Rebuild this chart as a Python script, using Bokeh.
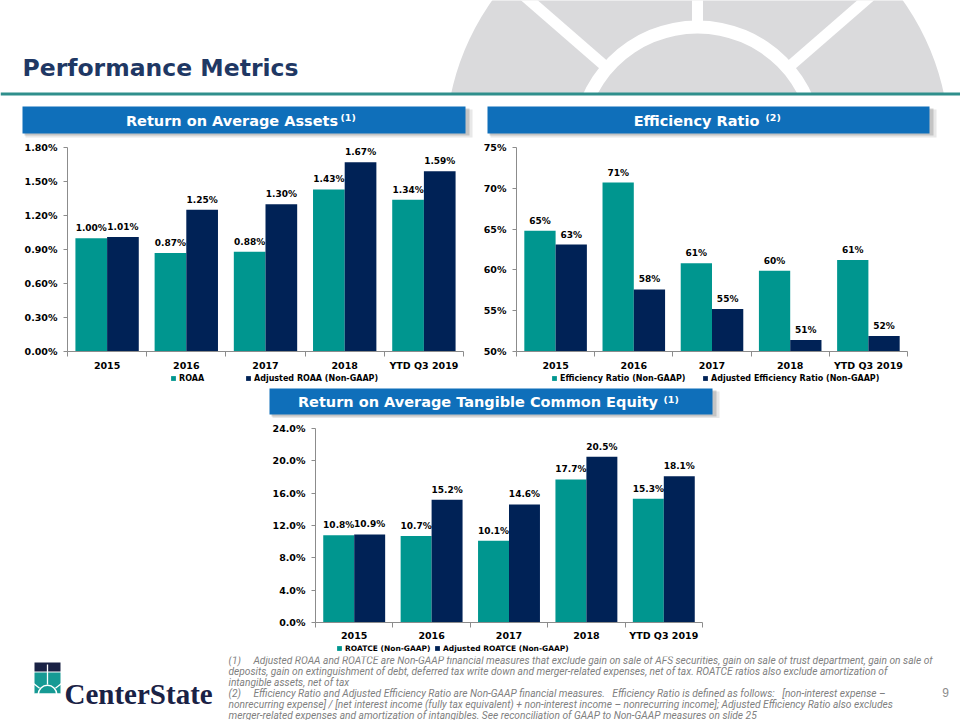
import math
from bokeh.plotting import figure
from bokeh.layouts import column, row
from bokeh.models import (Range1d, FixedTicker, PrintfTickFormatter, Legend, LegendItem,
                          Spacer, ColumnDataSource)
from bokeh.core.properties import value
from bokeh.embed import file_html
from bokeh.resources import INLINE

# ---------------- data ----------------
categories = ["2015", "2016", "2017", "2018", "YTD Q3 2019"]

roaa = [1.00, 0.87, 0.88, 1.43, 1.34]
adj_roaa = [1.01, 1.25, 1.30, 1.67, 1.59]
roaa_ticks = [0.0, 0.3, 0.6, 0.9, 1.2, 1.5, 1.8]

eff = [64.8, 70.7, 60.8, 59.9, 61.2]
adj_eff = [63.1, 57.6, 55.2, 51.4, 51.9]
eff_ticks = [50, 55, 60, 65, 70, 75]

roatce = [10.8, 10.7, 10.1, 17.7, 15.3]
adj_roatce = [10.9, 15.2, 14.6, 20.5, 18.1]
roatce_ticks = [0, 4, 8, 12, 16, 20, 24]

NB = "\u00a0"
footnotes = [
    "(1)" + NB * 5 + "Adjusted ROAA and ROATCE are Non-GAAP financial measures that exclude gain on sale of AFS securities, gain on sale of trust department, gain on sale of",
    "deposits, gain on extinguishment of debt, deferred tax write down and merger-related expenses, net of tax. ROATCE ratios also exclude amortization of",
    "intangible assets, net of tax",
    "(2)" + NB * 5 + "Efficiency Ratio and Adjusted Efficiency Ratio are Non-GAAP financial measures." + NB * 3 + "Efficiency Ratio is defined as follows:" + NB * 3 + "[non-interest expense \u2013",
    "nonrecurring expense] / [net interest income (fully tax equivalent) + non-interest income \u2013 nonrecurring income]; Adjusted Efficiency Ratio also excludes",
    "merger-related expenses and amortization of intangibles. See reconciliation of GAAP to Non-GAAP measures on slide 25",
]

# ---------------- styles ----------------
TEAL = "#00968f"
NAVY = "#002256"
AXIS = "#8c8c8c"
BANNER = "#0f6fba"
TITLE = "#1f3864"
FONT = "DejaVu Sans"


def canvas(w, h):
    p = figure(width=w, height=h, x_range=Range1d(0, w), y_range=Range1d(h, 0),
               output_backend="svg", toolbar_location=None,
               x_axis_location=None, y_axis_location=None, min_border=0,
               outline_line_color=None, background_fill_color="white")
    p.grid.visible = False
    return p


def banner(p, x0, x1, y0, y1, title, sup, tx, sx):
    p.quad(left=[x0 + 3], right=[x1 + 7], top=[y0 + 3], bottom=[y1 + 4],
           fill_color="#808080", fill_alpha=0.18, line_color=None)
    p.quad(left=[x0 + 2], right=[x1 + 4], top=[y0 + 2], bottom=[y1 + 2],
           fill_color="#808080", fill_alpha=0.35, line_color=None)
    p.quad(left=[x0], right=[x1], top=[y0], bottom=[y1], fill_color=BANNER, line_color=None)
    yc = (y0 + y1) / 2
    p.text(x=[tx], y=[yc + 0.5], text=[title], text_align="center", text_baseline="middle",
           text_color="white", text_font=value(FONT), text_font_style="bold",
           text_font_size="14.5px")
    p.text(x=[sx], y=[yc - 2.5], text=[sup], text_align="left", text_baseline="middle",
           text_color="white", text_font=value(FONT), text_font_style="bold",
           text_font_size="9.5px")


def bar_chart(w, h, borders, ylo, yhi, ticks, fmt, s1, s2, lfmt, standoff):
    l, r, t, b = borders
    n = len(categories)
    p = figure(width=w, height=h, x_range=Range1d(0, n), y_range=Range1d(ylo, yhi),
               output_backend="svg", toolbar_location=None,
               min_border_left=l, min_border_right=r, min_border_top=t, min_border_bottom=b,
               outline_line_color=None)
    p.grid.visible = False
    idx = list(range(n))
    src = ColumnDataSource(dict(
        x1=[i + 0.3 for i in idx], x2=[i + 0.7 for i in idx], s1=s1, s2=s2,
        l1=[lfmt.format(v) for v in s1], l2=[lfmt.format(v) for v in s2]))
    p.vbar(x="x1", top="s1", bottom=ylo, width=0.4, source=src, fill_color=TEAL, line_color=None)
    p.vbar(x="x2", top="s2", bottom=ylo, width=0.4, source=src, fill_color=NAVY, line_color=None)
    for xc, yc, lc in (("x1", "s1", "l1"), ("x2", "s2", "l2")):
        p.text(x=xc, y=yc, text=lc, source=src, text_align="center", text_baseline="bottom",
               y_offset=-5, text_font=value(FONT), text_font_style="bold",
               text_font_size="9px", text_color="black")

    xa = p.xaxis[0]
    xa.ticker = FixedTicker(ticks=[i + 0.5 for i in idx], minor_ticks=idx + [n])
    xa.major_label_overrides = {i + 0.5: c for i, c in enumerate(categories)}
    xa.axis_line_color = AXIS
    xa.major_tick_line_color = None
    xa.major_tick_out = 0
    xa.major_tick_in = 0
    xa.minor_tick_line_color = AXIS
    xa.minor_tick_out = 5
    xa.minor_tick_in = 0
    xa.major_label_standoff = standoff
    xa.major_label_text_font = FONT
    xa.major_label_text_font_style = "bold"
    xa.major_label_text_font_size = "9.5px"
    xa.major_label_text_color = "black"

    ya = p.yaxis[0]
    ya.ticker = FixedTicker(ticks=ticks, minor_ticks=[])
    ya.formatter = PrintfTickFormatter(format=fmt)
    ya.axis_line_color = AXIS
    ya.major_tick_line_color = AXIS
    ya.major_tick_out = 4
    ya.major_tick_in = 0
    ya.minor_tick_line_color = None
    ya.major_label_standoff = 6
    ya.major_label_text_font = FONT
    ya.major_label_text_font_style = "bold"
    ya.major_label_text_font_size = "9.5px"
    ya.major_label_text_color = "black"
    return p


def legend_strip(w, names, xs, fsize):
    # the strip's frame is aligned with the chart frame above it; xs are offsets from it
    s = canvas(w, 13)
    rs = [s.vbar(x=[float("nan")], top=[float("nan")], width=1, fill_color=c, line_color=None)
          for c in (TEAL, NAVY)]
    for name, r, x in zip(names, rs, xs):
        leg = Legend(items=[LegendItem(label=name, renderers=[r])], location=(x, 3),
                     orientation="horizontal", padding=0, margin=0, glyph_width=6,
                     glyph_height=6, label_standoff=3, label_height=10,
                     label_text_font=FONT, label_text_font_style="bold",
                     label_text_font_size=fsize, label_text_color="black",
                     border_line_color=None, background_fill_alpha=0)
        s.add_layout(leg)
    return s


# ---------------- header ----------------
header = canvas(960, 140)
cx, cy = 697, 146
header.circle(x=[cx], y=[cy], radius=252, fill_color="#dadadc", line_color=None)
header.annulus(x=[cx], y=[cy], inner_radius=113, outer_radius=126,
               fill_color="white", line_color=None)
angs = [math.radians(a) for a in (-49, 0, 49)]
header.segment(x0=[cx + 124 * math.sin(a) for a in angs], y0=[cy - 124 * math.cos(a) for a in angs],
               x1=[cx + 280 * math.sin(a) for a in angs], y1=[cy - 280 * math.cos(a) for a in angs],
               line_color="white", line_width=11)
header.quad(left=[0], right=[960], top=[93], bottom=[140], fill_color="white", line_color=None)
header.quad(left=[0], right=[960], top=[92], bottom=[95], fill_color="#2f8f8c", line_color=None)
header.text(x=[22], y=[67], text=["Performance Metrics"], text_align="left",
            text_baseline="middle", text_color=TITLE, text_font=value(FONT),
            text_font_style="bold", text_font_size="23.5px")
banner(header, 22, 465, 106, 133, "Return on Average Assets", "(1)", 231.5, 340)
banner(header, 487, 929, 106, 133, "Efficiency Ratio", "(2)", 696, 765)

# ---------------- charts row 1 ----------------
c1 = bar_chart(480, 233, (67, 17, 7, 21), 0, 1.8, roaa_ticks, "%.2f%%", roaa, adj_roaa, "{:.2f}%", 3)
l1 = legend_strip(480, ["ROAA", "Adjusted ROAA (Non-GAAP)"], [103, 178], "8px")
c2 = bar_chart(480, 233, (35, 53, 7, 21), 50, 75, eff_ticks, "%d%%", eff, adj_eff, "{:.0f}%", 3)
l2 = legend_strip(480, ["Efficiency Ratio (Non-GAAP)", "Adjusted Efficiency Ratio (Non-GAAP)"],
                  [35, 186], "8px")

# ---------------- middle strip ----------------
mid = canvas(960, 32)
banner(mid, 269, 712, 2, 28, "Return on Average Tangible Common Equity", "(1)", 477.5, 663)

# ---------------- chart row 2 ----------------
c3 = bar_chart(460, 225, (55, 18, 10, 20), 0, 24, roatce_ticks, "%.1f%%", roatce, adj_roatce, "{:.1f}%", 2)
l3 = legend_strip(460, ["ROATCE (Non-GAAP)", "Adjusted ROATCE (Non-GAAP)"], [21, 119], "7.5px")

# ---------------- footer ----------------
footer = canvas(960, 64)
oy = 656
footer.quad(left=[34], right=[60], top=[662 - oy], bottom=[671 - oy], fill_color="#1a2245", line_color=None)
footer.quad(left=[34], right=[60], top=[672 - oy], bottom=[693 - oy], fill_color="#169a94", line_color=None)
footer.annulus(x=[47], y=[694 - oy], inner_radius=8.5, outer_radius=10, fill_color="white", line_color=None)
lang = [math.radians(a) for a in (-52, 0, 52)]
footer.segment(x0=[47 + 10 * math.sin(a) for a in lang], y0=[694 - oy - 10 * math.cos(a) for a in lang],
               x1=[47 + 30 * math.sin(a) for a in lang], y1=[694 - oy - 30 * math.cos(a) for a in lang],
               line_color="white", line_width=1.3)
footer.quad(left=[34], right=[60], top=[693 - oy], bottom=[64], fill_color="white", line_color=None)
footer.text(x=[64], y=[693 - oy], text=["CenterState"], text_align="left", text_baseline="alphabetic",
            text_color="#1a2245", text_font=value("Liberation Serif"), text_font_style="bold",
            text_font_size="29px")
footer.text(x=[228] * len(footnotes), y=[4 + 11 * i for i in range(len(footnotes))], text=footnotes,
            text_align="left", text_baseline="middle", text_color="#808080",
            text_font=value("Roboto"), text_font_style="italic", text_font_size="10.2px")
footer.text(x=[945], y=[692 - oy], text=["9"], text_align="center", text_baseline="middle",
            text_color="#8c8c8c", text_font=value("Liberation Sans"), text_font_size="12px")

layout = column(
    header,
    row(column(c1, l1, spacing=0), column(c2, l2, spacing=0), spacing=0),
    mid,
    row(Spacer(width=260, height=238), column(c3, l3, spacing=0), Spacer(width=240, height=238),
        spacing=0),
    footer,
    spacing=0,
)

open("out.html", "w").write(file_html(layout, INLINE, title="Performance Metrics"))
